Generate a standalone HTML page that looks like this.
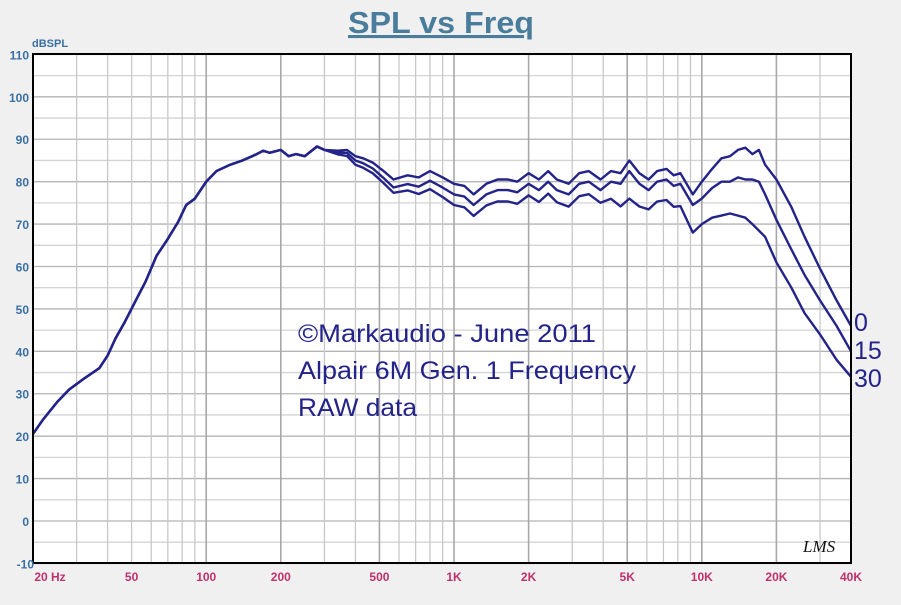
<!DOCTYPE html>
<html><head><meta charset="utf-8"><style>
html,body{margin:0;padding:0;background:#f0f0f0;}
svg{display:block;font-family:"Liberation Sans",sans-serif;}
</style></head><body>
<svg id="s" width="901" height="605" viewBox="0 0 901 605" xmlns="http://www.w3.org/2000/svg">
<rect width="901" height="605" fill="#f0f0f0"/>
<text x="441" y="33" text-anchor="middle" font-size="31" font-weight="bold" fill="#4a7d9c" text-decoration="underline" textLength="186" lengthAdjust="spacingAndGlyphs">SPL vs Freq</text>
<rect x="33" y="54" width="818" height="509" fill="#fff"/>
<g id="grid"></g>
<g id="curves" fill="none" stroke="#23238a" stroke-width="2.4" stroke-linejoin="round"></g>
<rect x="33" y="54" width="818" height="509" fill="none" stroke="#000" stroke-width="2"/>
<text x="32" y="47" font-size="11" font-weight="bold" fill="#3a6fa3">dBSPL</text>
<g id="ylab" font-size="12" font-weight="bold" fill="#3a6fa3" text-anchor="end"></g>
<g id="xlab" font-size="12" font-weight="bold" fill="#c0306a" text-anchor="middle"></g>
<g font-size="25" fill="#23238a">
<text x="298" y="342" textLength="298" lengthAdjust="spacingAndGlyphs">©Markaudio - June 2011</text>
<text x="298" y="379" textLength="338" lengthAdjust="spacingAndGlyphs">Alpair 6M Gen. 1 Frequency</text>
<text x="298" y="416" textLength="119" lengthAdjust="spacingAndGlyphs">RAW data</text>
<text x="854" y="331">0</text>
<text x="854" y="359">15</text>
<text x="854" y="387">30</text>
</g>
<text x="803" y="552" font-size="17" font-style="italic" font-family="Liberation Serif,serif" fill="#111">LMS</text>
</svg>
<script>
var NS="http://www.w3.org/2000/svg";
function X(f){return 33+247.8*Math.log10(f/20);}
function Y(d){return 521-d*4.2417;}
function el(p,t,a,txt){var e=document.createElementNS(NS,t);for(var k in a)e.setAttribute(k,a[k]);if(txt!=null)e.textContent=txt;document.getElementById(p).appendChild(e);}
for(var d=-10;d<=110;d+=5){el("grid","line",{x1:33,x2:851,y1:Y(d),y2:Y(d),stroke:d%10==0?"#b4b4b4":"#d4d4d4","stroke-width":1.3});}
var fs=[];[10,100,1000,10000].forEach(function(m){for(var i=1;i<10;i++)fs.push(i*m);});
fs.forEach(function(f){if(f<=20||f>=40000)return;var maj=[100,200,500,1000,2000,5000,10000,20000].indexOf(f)>=0;
el("grid","line",{x1:X(f),x2:X(f),y1:54,y2:563,stroke:maj?"#a8a8a8":"#c8c8c8","stroke-width":maj?1.6:1.3});});
for(var d=-10;d<=110;d+=10)el("ylab","text",{x:d==-10?34:29,y:Y(d)+5},String(d));
[[20,"20  Hz"],[50,"50"],[100,"100"],[200,"200"],[500,"500"],[1000,"1K"],[2000,"2K"],[5000,"5K"],[10000,"10K"],[20000,"20K"],[40000,"40K"]].forEach(function(a){
el("xlab","text",{x:a[0]==20?50:(a[0]==40000?851:X(a[0])),y:581},a[1]);});
var low=[[20,20.5],[22,24],[25,28],[28,31],[32,33.5],[37,36],[40,39],[43,43],[47,47],[52,52],[57,56.5],[63,62.5],[70,66.5],[77,70.5],[83,74.5],[90,76],[100,80],[110,82.5],[125,84],[140,85],[160,86.5],[170,87.3],[180,86.8],[200,87.5],[215,86],[230,86.5],[250,86],[280,88.3],[300,87.5],[340,87.3],[370,87.5],[400,86],[430,85.5],[470,84.5],[520,82.5],[570,80.5],[650,81.5],[720,81],[800,82.5],[900,81],[1000,79.5],[1100,79],[1200,77],[1350,79.5],[1500,80.5],[1650,80.5],[1800,80],[2000,82],[2200,80.5],[2400,82.5],[2600,80.5],[2900,79.5],[3200,82],[3500,82.5],[3900,80.5],[4300,82.5],[4700,82],[5100,85],[5600,82],[6100,80.5],[6600,82.5],[7200,83],[7700,81.5],[8200,82],[9200,77]];
function off(f,o){
 if(f<=o[0][0])return o[0][1];
 for(var i=1;i<o.length;i++)if(f<=o[i][0]){var a=o[i-1],b=o[i],t=Math.log(f/a[0])/Math.log(b[0]/a[0]);return a[1]+(b[1]-a[1])*t;}
 return o[o.length-1][1];}
var o15=[[300,0],[400,1],[600,2],[1000,2.5]], o30=[[300,0],[400,2],[600,3.3],[1000,5],[4000,5.5],[5100,9],[6000,7],[8000,7.5],[9200,9]];
var h0=[[10000,80],[11000,83],[12000,85.5],[13000,86],[14000,87.5],[15000,88],[16000,86.5],[17000,87.5],[18000,84],[20000,80.5],[23000,74],[26000,67],[30000,59.5],[35000,52],[40000,46]];
var h15=[[9200,74.5],[10000,76],[11000,78.5],[12000,80],[13000,80],[14000,81],[15000,80.5],[16000,80.5],[17000,80],[18000,77],[20000,71],[23000,64],[26000,58],[30000,52],[35000,46],[40000,40]];
var h30=[[9200,68],[10000,70],[11000,71.5],[12000,72],[13000,72.5],[14000,72],[15000,71.5],[16000,70],[18000,67],[20000,61],[23000,55],[26000,49],[30000,44],[35000,38],[40000,34]];
function path(o,h){var pts=[];low.forEach(function(p){if(p[0]>=h[0][0])return;pts.push([p[0],p[1]-(o?off(p[0],o):0)]);});pts=pts.concat(h);
 return pts.map(function(p,i){return (i?"L":"M")+X(p[0]).toFixed(1)+","+Y(p[1]).toFixed(1);}).join("");}
el("curves","path",{d:path(null,h0)});
el("curves","path",{d:path(o15,h15)});
el("curves","path",{d:path(o30,h30)});
</script>
</body></html>
